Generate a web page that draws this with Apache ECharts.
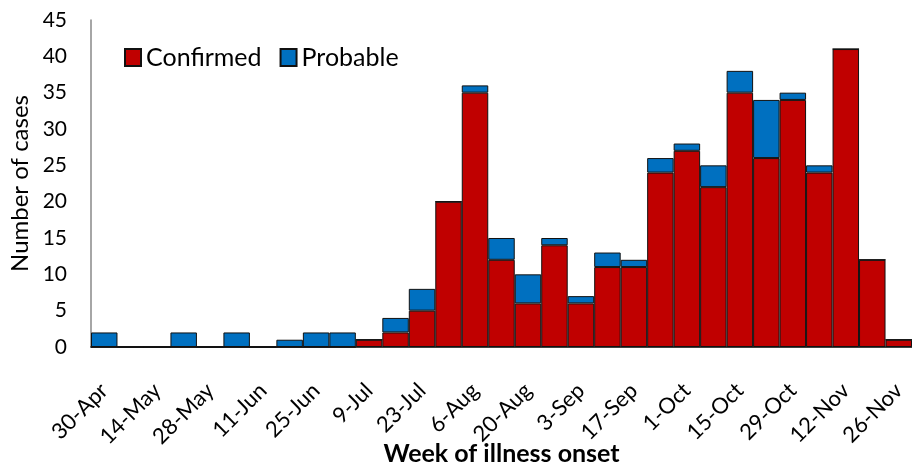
<!DOCTYPE html>
<html>
<head>
<meta charset="utf-8">
<script src="https://cdn.jsdelivr.net/npm/echarts@6/dist/echarts.min.js"></script>
<style>html,body{margin:0;padding:0;background:#fff;}#c{width:912px;height:466px;}</style>
</head>
<body>
<div id="c"></div>
<script>
const weeks = ['30-Apr','7-May','14-May','21-May','28-May','4-Jun','11-Jun','18-Jun','25-Jun','2-Jul','9-Jul','16-Jul','23-Jul','30-Jul','6-Aug','13-Aug','20-Aug','27-Aug','3-Sep','10-Sep','17-Sep','24-Sep','1-Oct','8-Oct','15-Oct','22-Oct','29-Oct','5-Nov','12-Nov','19-Nov','26-Nov'];
const confirmed = [0,0,0,0,0,0,0,0,0,0,1,2,5,20,35,12,6,14,6,11,11,24,27,22,35,26,34,24,41,12,1];
const probable  = [2,0,0,2,0,2,0,1,2,2,0,2,3,0,1,3,4,1,1,2,1,2,1,3,3,8,1,1,0,0,0];
const yTicks = {min:0, max:45, step:5};

const font = 'Lato, "Open Sans", sans-serif';
const chart = echarts.init(document.getElementById('c'), null, {renderer:'canvas'});
chart.setOption({
  animation:false,
  backgroundColor:'#fff',
  grid:{left:91, right:0, top:20, bottom:119, containLabel:false, outerBoundsMode:'none'},
  legend:{
    left:119, top:40, itemWidth:16, itemHeight:17, itemGap:18,
    icon:'rect',
    textStyle:{fontFamily:font, fontSize:25, color:'#000'},
    data:['Confirmed','Probable']
  },
  xAxis:{
    type:'category', data:weeks,
    axisLine:{lineStyle:{color:'#000', width:1.5}},
    axisTick:{show:false},
    axisLabel:{interval:1, rotate:45, margin:40, verticalAlign:'middle', padding:[6,0,0,0],
               fontFamily:font, fontSize:22, color:'#000'},
    name:'Week of illness onset', nameLocation:'middle', nameGap:94, nameMoveOverlap:false,
    nameTextStyle:{fontFamily:font, fontSize:25, fontWeight:'bold', color:'#000'}
  },
  yAxis:{
    type:'value', min:yTicks.min, max:yTicks.max, interval:yTicks.step,
    axisLine:{show:true, lineStyle:{color:'#888', width:1.5}},
    axisTick:{show:false},
    splitLine:{show:false},
    axisLabel:{fontFamily:font, fontSize:21, color:'#000', margin:24},
    name:'Number of cases', nameLocation:'middle', nameGap:59, nameMoveOverlap:false,
    nameTextStyle:{fontFamily:font, fontSize:24, color:'#000'}
  },
  series:[
    {name:'Confirmed', type:'bar', stack:'a', data:confirmed, barCategoryGap:'0%', barWidth:'100%',
     itemStyle:{color:'#C00000', borderColor:'#111', borderWidth:1}},
    {name:'Probable', type:'bar', stack:'a', data:probable, barCategoryGap:'0%', barWidth:'100%',
     itemStyle:{color:'#0070C0', borderColor:'#111', borderWidth:1}}
  ]
});
</script>
</body>
</html>
